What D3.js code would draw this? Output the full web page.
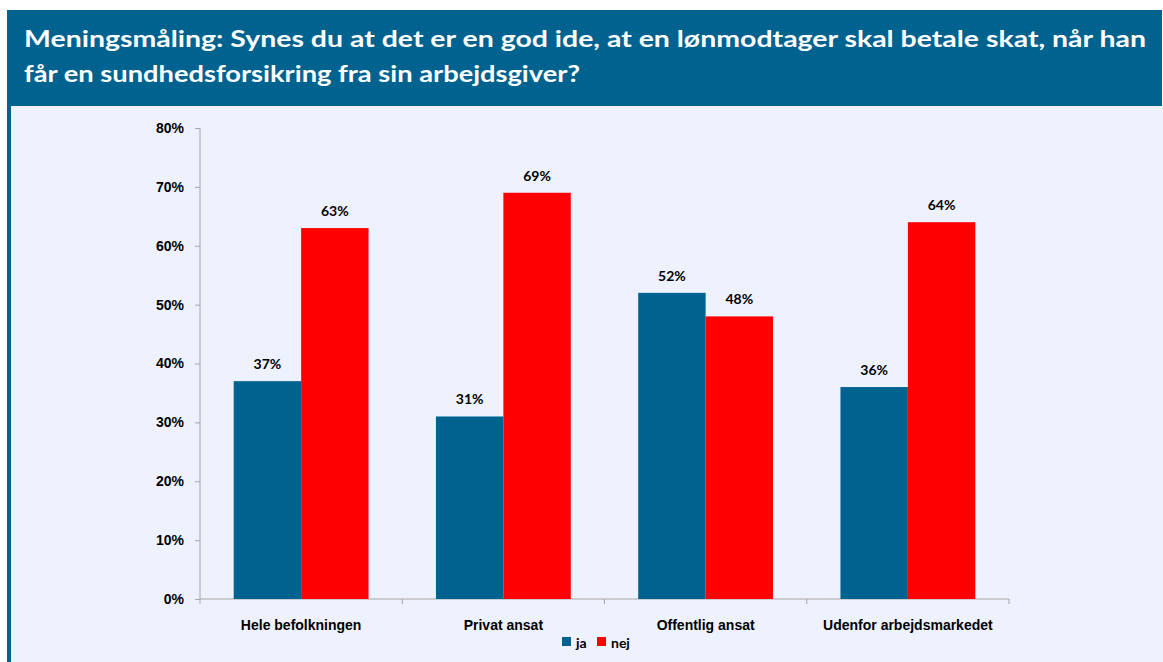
<!DOCTYPE html>
<html>
<head>
<meta charset="utf-8">
<script src="https://cdn.jsdelivr.net/npm/d3@7"></script>
<style>
  body { margin: 0; background: #ffffff; }
  svg { display: block; font-family: Lato, "Open Sans", sans-serif; }
  .axis text { font-weight: bold; font-size: 14px; fill: #000; }
  .axis path, .axis line { stroke: #a6a6a6; }
</style>
</head>
<body>
<svg id="chart"></svg>
<script>
// Data
const categories = ["Hele befolkningen", "Privat ansat", "Offentlig ansat", "Udenfor arbejdsmarkedet"];
const seriesNames = ["ja", "nej"];
const jaValues = [37, 31, 52, 36];
const nejValues = [63, 69, 48, 64];
const yTicks = [0, 10, 20, 30, 40, 50, 60, 70, 80];
const titleLines = [
  "Meningsmåling: Synes du at det er en god ide, at en lønmodtager skal betale skat, når han",
  "får en sundhedsforsikring fra sin arbejdsgiver?"
];

const colors = { ja: "#00628f", nej: "#ff0000" };

const width = 1163;
const height = 662;
const margin = { top: 128, right: 154, bottom: 63, left: 200 };
const innerWidth = width - margin.left - margin.right;
const innerHeight = height - margin.top - margin.bottom;

const svg = d3.select("#chart")
    .attr("width", width)
    .attr("height", height);

// Frame: blue header and left border, light panel
svg.append("rect")
    .attr("x", 7).attr("y", 10)
    .attr("width", 1155).attr("height", 652)
    .attr("fill", "#00628f");
svg.append("rect")
    .attr("x", 11).attr("y", 106)
    .attr("width", width - 11).attr("height", height - 106)
    .attr("fill", "#eef2fe");

// Title, stretched to the widths seen in the header
const titleWidths = [1122, 556];
const title = svg.append("g").attr("class", "title");
titleLines.forEach((line, i) => {
  title.append("text")
      .attr("x", 24)
      .attr("y", 47 + i * 35)
      .attr("fill", "#fff")
      .attr("font-weight", "bold")
      .attr("font-size", 23)
      .attr("textLength", titleWidths[i])
      .attr("lengthAdjust", "spacingAndGlyphs")
      .text(line);
});

const chart = svg.append("g")
    .attr("transform", `translate(${margin.left}, ${margin.top})`);

// Scales
const x = d3.scaleBand()
    .domain(categories)
    .range([0, innerWidth])
    .paddingInner(1 / 3)
    .paddingOuter(1 / 6);

const xSub = d3.scaleBand()
    .domain(seriesNames)
    .range([0, x.bandwidth()]);

const y = d3.scaleLinear()
    .domain([0, 80])
    .range([innerHeight, 0]);

// Axes
chart.append("g")
    .attr("class", "axis")
    .call(d3.axisLeft(y).tickValues(yTicks).tickFormat(d => d + "%").tickSizeOuter(0).tickSize(5).tickPadding(11))
    .call(g => g.select(".domain").attr("d", `M0,0V${innerHeight}`));

const xAxis = chart.append("g")
    .attr("class", "axis")
    .attr("transform", `translate(0, ${innerHeight})`)
    .call(d3.axisBottom(x).tickSize(0).tickPadding(21));
xAxis.select(".domain").attr("d", `M0,0H${innerWidth}`);

// Category boundary ticks
const step = x.step();
xAxis.selectAll(".bound")
    .data(d3.range(categories.length + 1))
    .enter()
    .append("line")
    .attr("class", "bound")
    .attr("x1", d => d * step).attr("x2", d => d * step)
    .attr("y1", 0).attr("y2", 5)
    .attr("stroke", "#a6a6a6");

// Bars
const rows = categories.map((c, i) => ({ category: c, ja: jaValues[i], nej: nejValues[i] }));

const groups = chart.selectAll(".group")
    .data(rows)
    .enter()
    .append("g")
    .attr("class", "group")
    .attr("transform", d => `translate(${x(d.category)}, 0)`);

const cells = groups.selectAll(".cell")
    .data(d => seriesNames.map(s => ({ key: s, value: d[s] })))
    .enter();

cells.append("rect")
    .attr("x", d => xSub(d.key))
    .attr("y", d => y(d.value))
    .attr("width", xSub.bandwidth())
    .attr("height", d => innerHeight - y(d.value))
    .attr("fill", d => colors[d.key]);

cells.append("text")
    .attr("x", d => xSub(d.key) + xSub.bandwidth() / 2)
    .attr("y", d => y(d.value) - 12)
    .attr("text-anchor", "middle")
    .attr("font-weight", "bold")
    .attr("font-size", 14)
    .text(d => d.value + "%");

// Legend
const legend = svg.append("g")
    .attr("transform", "translate(562, 637)");
const legendX = [0, 35];
seriesNames.forEach((s, i) => {
  legend.append("rect")
      .attr("x", legendX[i]).attr("y", 0)
      .attr("width", 9).attr("height", 9)
      .attr("fill", colors[s]);
  legend.append("text")
      .attr("x", legendX[i] + 14).attr("y", 11)
      .attr("font-weight", "bold")
      .attr("font-size", 14)
      .text(s);
});
</script>
</body>
</html>
